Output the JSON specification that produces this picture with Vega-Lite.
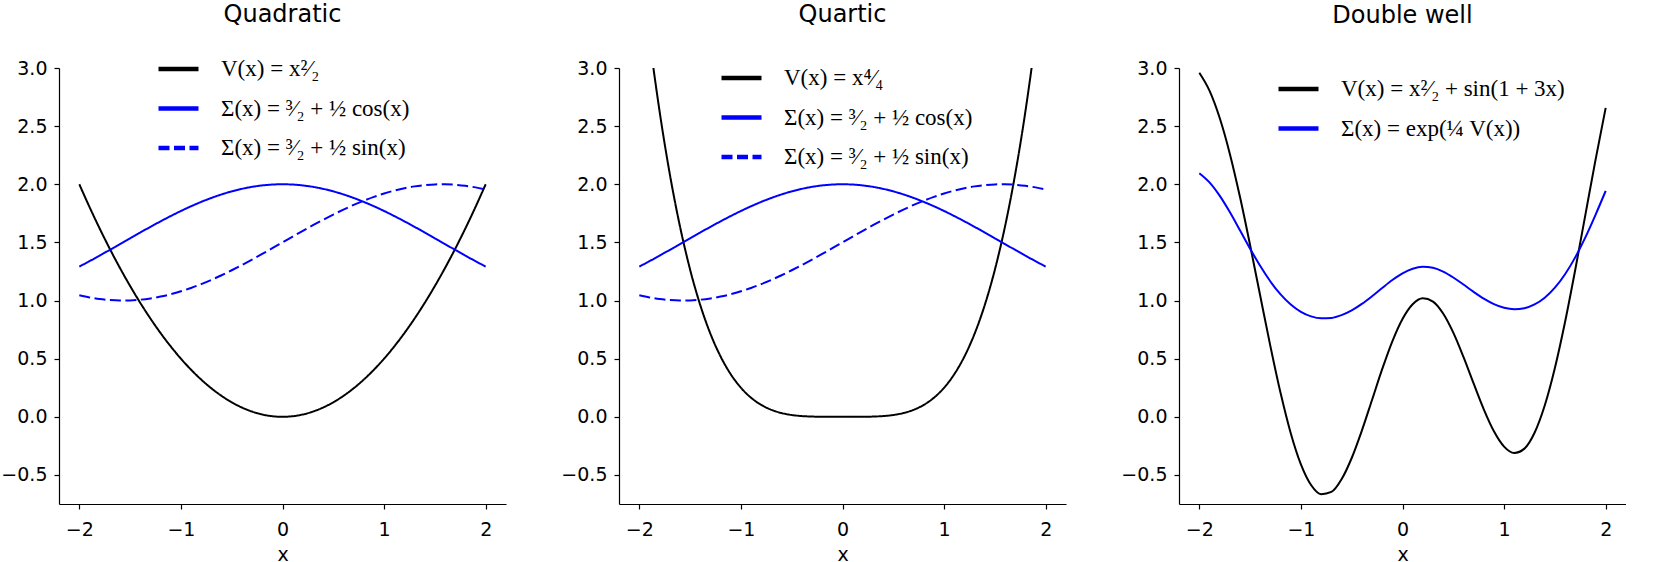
{
  "$schema": "https://vega.github.io/schema/vega-lite/v6.json",
  "autosize": {"type": "pad"},
  "padding": {"left": 0, "top": 3, "right": 0, "bottom": 0},
  "background": "white",
  "datasets": {
    "pq": [
      {"x": -2.0, "q": 2.0, "r": 4.0, "c": 1.2919, "s": 1.0453},
      {"x": -1.9, "q": 1.805, "r": 3.258, "c": 1.3384, "s": 1.0268},
      {"x": -1.8, "q": 1.62, "r": 2.6244, "c": 1.3864, "s": 1.0131},
      {"x": -1.7, "q": 1.445, "r": 2.088, "c": 1.4356, "s": 1.0042},
      {"x": -1.6, "q": 1.28, "r": 1.6384, "c": 1.4854, "s": 1.0002},
      {"x": -1.5, "q": 1.125, "r": 1.2656, "c": 1.5354, "s": 1.0013},
      {"x": -1.4, "q": 0.98, "r": 0.9604, "c": 1.585, "s": 1.0073},
      {"x": -1.3, "q": 0.845, "r": 0.714, "c": 1.6338, "s": 1.0182},
      {"x": -1.2, "q": 0.72, "r": 0.5184, "c": 1.6812, "s": 1.034},
      {"x": -1.1, "q": 0.605, "r": 0.366, "c": 1.7268, "s": 1.0544},
      {"x": -1.0, "q": 0.5, "r": 0.25, "c": 1.7702, "s": 1.0793},
      {"x": -0.9, "q": 0.405, "r": 0.164, "c": 1.8108, "s": 1.1083},
      {"x": -0.8, "q": 0.32, "r": 0.1024, "c": 1.8484, "s": 1.1413},
      {"x": -0.7, "q": 0.245, "r": 0.06, "c": 1.8824, "s": 1.1779},
      {"x": -0.6, "q": 0.18, "r": 0.0324, "c": 1.9127, "s": 1.2177},
      {"x": -0.5, "q": 0.125, "r": 0.0156, "c": 1.9388, "s": 1.2603},
      {"x": -0.4, "q": 0.08, "r": 0.0064, "c": 1.9605, "s": 1.3053},
      {"x": -0.3, "q": 0.045, "r": 0.002, "c": 1.9777, "s": 1.3522},
      {"x": -0.2, "q": 0.02, "r": 0.0004, "c": 1.99, "s": 1.4007},
      {"x": -0.1, "q": 0.005, "r": 0.0, "c": 1.9975, "s": 1.4501},
      {"x": 0.0, "q": 0.0, "r": 0.0, "c": 2.0, "s": 1.5},
      {"x": 0.1, "q": 0.005, "r": 0.0, "c": 1.9975, "s": 1.5499},
      {"x": 0.2, "q": 0.02, "r": 0.0004, "c": 1.99, "s": 1.5993},
      {"x": 0.3, "q": 0.045, "r": 0.002, "c": 1.9777, "s": 1.6478},
      {"x": 0.4, "q": 0.08, "r": 0.0064, "c": 1.9605, "s": 1.6947},
      {"x": 0.5, "q": 0.125, "r": 0.0156, "c": 1.9388, "s": 1.7397},
      {"x": 0.6, "q": 0.18, "r": 0.0324, "c": 1.9127, "s": 1.7823},
      {"x": 0.7, "q": 0.245, "r": 0.06, "c": 1.8824, "s": 1.8221},
      {"x": 0.8, "q": 0.32, "r": 0.1024, "c": 1.8484, "s": 1.8587},
      {"x": 0.9, "q": 0.405, "r": 0.164, "c": 1.8108, "s": 1.8917},
      {"x": 1.0, "q": 0.5, "r": 0.25, "c": 1.7702, "s": 1.9207},
      {"x": 1.1, "q": 0.605, "r": 0.366, "c": 1.7268, "s": 1.9456},
      {"x": 1.2, "q": 0.72, "r": 0.5184, "c": 1.6812, "s": 1.966},
      {"x": 1.3, "q": 0.845, "r": 0.714, "c": 1.6338, "s": 1.9818},
      {"x": 1.4, "q": 0.98, "r": 0.9604, "c": 1.585, "s": 1.9927},
      {"x": 1.5, "q": 1.125, "r": 1.2656, "c": 1.5354, "s": 1.9987},
      {"x": 1.6, "q": 1.28, "r": 1.6384, "c": 1.4854, "s": 1.9998},
      {"x": 1.7, "q": 1.445, "r": 2.088, "c": 1.4356, "s": 1.9958},
      {"x": 1.8, "q": 1.62, "r": 2.6244, "c": 1.3864, "s": 1.9869},
      {"x": 1.9, "q": 1.805, "r": 3.258, "c": 1.3384, "s": 1.9732},
      {"x": 2.0, "q": 2.0, "r": 4.0, "c": 1.2919, "s": 1.9547}
    ],
    "dw": [
      {"x": -2.0, "v": 2.9589, "e": 2.0953},
      {"x": -1.9, "v": 2.8049, "e": 2.0162},
      {"x": -1.8, "v": 2.5716, "e": 1.902},
      {"x": -1.7, "v": 2.2633, "e": 1.7609},
      {"x": -1.6, "v": 1.8919, "e": 1.6047},
      {"x": -1.5, "v": 1.4758, "e": 1.4462},
      {"x": -1.4, "v": 1.0384, "e": 1.2964},
      {"x": -1.3, "v": 0.6058, "e": 1.1635},
      {"x": -1.2, "v": 0.2045, "e": 1.0525},
      {"x": -1.1, "v": -0.1407, "e": 0.9654},
      {"x": -1.0, "v": -0.4093, "e": 0.9027},
      {"x": -0.9, "v": -0.5867, "e": 0.8636},
      {"x": -0.8, "v": -0.6655, "e": 0.8467},
      {"x": -0.7, "v": -0.6462, "e": 0.8508},
      {"x": -0.6, "v": -0.5374, "e": 0.8743},
      {"x": -0.5, "v": -0.3544, "e": 0.9152},
      {"x": -0.4, "v": -0.1187, "e": 0.9708},
      {"x": -0.3, "v": 0.1448, "e": 1.0369},
      {"x": -0.2, "v": 0.4094, "e": 1.1078},
      {"x": -0.1, "v": 0.6492, "e": 1.1762},
      {"x": 0.0, "v": 0.8415, "e": 1.2341},
      {"x": 0.1, "v": 0.9686, "e": 1.274},
      {"x": 0.2, "v": 1.0196, "e": 1.2903},
      {"x": 0.3, "v": 0.9913, "e": 1.2812},
      {"x": 0.4, "v": 0.8885, "e": 1.2487},
      {"x": 0.5, "v": 0.7235, "e": 1.1983},
      {"x": 0.6, "v": 0.515, "e": 1.1374},
      {"x": 0.7, "v": 0.2866, "e": 1.0743},
      {"x": 0.8, "v": 0.0645, "e": 1.0162},
      {"x": 0.9, "v": -0.1248, "e": 0.9693},
      {"x": 1.0, "v": -0.2568, "e": 0.9378},
      {"x": 1.1, "v": -0.3112, "e": 0.9252},
      {"x": 1.2, "v": -0.2737, "e": 0.9339},
      {"x": 1.3, "v": -0.1375, "e": 0.9662},
      {"x": 1.4, "v": 0.0966, "e": 1.0244},
      {"x": 1.5, "v": 0.4195, "e": 1.1106},
      {"x": 1.6, "v": 0.8154, "e": 1.2261},
      {"x": 1.7, "v": 1.2628, "e": 1.3712},
      {"x": 1.8, "v": 1.7366, "e": 1.5436},
      {"x": 1.9, "v": 2.2099, "e": 1.7375},
      {"x": 2.0, "v": 2.657, "e": 1.943}
    ]
  },
  "config": {
    "view": {"stroke": null},
    "axis": {
      "grid": false,
      "domainColor": "black",
      "tickColor": "black",
      "labelColor": "black",
      "titleColor": "black",
      "labelFont": "DejaVu Sans",
      "titleFont": "DejaVu Sans",
      "labelFontSize": 19,
      "titleFontSize": 19,
      "titleFontWeight": "normal",
      "tickSize": 5,
      "domainWidth": 1.2,
      "tickWidth": 1.2,
      "labelPadding": 7
    },
    "axisX": {"labelPadding": 11, "titlePadding": 6},
    "title": {
      "font": "DejaVu Sans",
      "fontSize": 24,
      "fontWeight": "normal",
      "color": "black",
      "anchor": "middle",
      "frame": "group",
      "baseline": "alphabetic",
      "offset": 31
    },
    "legend": {
      "orient": "none",
      "title": null,
      "padding": 0,
      "labelFont": "Liberation Serif",
      "labelFontSize": 23,
      "labelColor": "black",
      "labelOffset": 20,
      "symbolType": "stroke",
      "symbolStrokeWidth": 4.5,
      "symbolSize": 1600,
      "rowPadding": 4.5,
      "labelLimit": 400
    }
  },
  "spacing": 113,
  "bounds": "flush",
  "resolve": {
    "scale": {"color": "independent", "strokeDash": "independent", "x": "independent", "y": "independent"},
    "legend": {"color": "independent", "strokeDash": "independent"}
  },
  "hconcat": [
    {
      "width": 447,
      "height": 436,
      "title": {"text": "Quadratic", "dy": 11.5},
      "data": {"name": "pq"},
      "transform": [{"fold": ["q", "c", "s"], "as": ["k", "val"]}],
      "mark": {"type": "line", "strokeWidth": 2, "interpolate": "monotone", "clip": true},
      "encoding": {
        "x": {"field": "x", "type": "quantitative", "scale": {"domain": [-2.2, 2.2], "nice": false, "zero": false}, "axis": {"values": [-2, -1, 0, 1, 2], "format": "d", "title": "x"}},
        "y": {"field": "val", "type": "quantitative", "scale": {"domain": [-0.75, 3], "nice": false, "zero": false}, "axis": {"values": [-0.5, 0, 0.5, 1, 1.5, 2, 2.5, 3], "format": ".1f", "title": null}},
        "color": {"field": "k", "type": "nominal", "scale": {"domain": ["q", "c", "s"], "range": ["black", "blue", "blue"]},
          "legend": {"legendX": 97, "legendY": -21.5, "labelExpr": "datum.label == 'q' ? 'V(x) = x²⁄₂' : datum.label == 'c' ? 'Σ(x) = ³⁄₂ + ½ cos(x)' : 'Σ(x) = ³⁄₂ + ½ sin(x)'"}},
        "strokeDash": {"field": "k", "type": "nominal", "scale": {"domain": ["q", "c", "s"], "range": [[1, 0], [1, 0], [11, 4.5]]},
          "legend": {"legendX": 97, "legendY": -21.5, "labelExpr": "datum.label == 'q' ? 'V(x) = x²⁄₂' : datum.label == 'c' ? 'Σ(x) = ³⁄₂ + ½ cos(x)' : 'Σ(x) = ³⁄₂ + ½ sin(x)'"}}
      }
    },
    {
      "width": 447,
      "height": 436,
      "title": {"text": "Quartic", "dy": 2.5},
      "data": {"name": "pq"},
      "transform": [{"fold": ["r", "c", "s"], "as": ["k", "val"]}],
      "mark": {"type": "line", "strokeWidth": 2, "interpolate": "monotone", "clip": true},
      "encoding": {
        "x": {"field": "x", "type": "quantitative", "scale": {"domain": [-2.2, 2.2], "nice": false, "zero": false}, "axis": {"values": [-2, -1, 0, 1, 2], "format": "d", "title": "x"}},
        "y": {"field": "val", "type": "quantitative", "scale": {"domain": [-0.75, 3], "nice": false, "zero": false}, "axis": {"values": [-0.5, 0, 0.5, 1, 1.5, 2, 2.5, 3], "format": ".1f", "title": null}},
        "color": {"field": "k", "type": "nominal", "scale": {"domain": ["r", "c", "s"], "range": ["black", "blue", "blue"]},
          "legend": {"legendX": 100, "legendY": -12.5, "labelExpr": "datum.label == 'r' ? 'V(x) = x⁴⁄₄' : datum.label == 'c' ? 'Σ(x) = ³⁄₂ + ½ cos(x)' : 'Σ(x) = ³⁄₂ + ½ sin(x)'"}},
        "strokeDash": {"field": "k", "type": "nominal", "scale": {"domain": ["r", "c", "s"], "range": [[1, 0], [1, 0], [11, 4.5]]},
          "legend": {"legendX": 100, "legendY": -12.5, "labelExpr": "datum.label == 'r' ? 'V(x) = x⁴⁄₄' : datum.label == 'c' ? 'Σ(x) = ³⁄₂ + ½ cos(x)' : 'Σ(x) = ³⁄₂ + ½ sin(x)'"}}
      }
    },
    {
      "width": 447,
      "height": 436,
      "title": {"text": "Double well", "dy": 0},
      "data": {"name": "dw"},
      "transform": [{"fold": ["v", "e"], "as": ["k", "val"]}],
      "mark": {"type": "line", "strokeWidth": 2, "interpolate": "monotone", "clip": true},
      "encoding": {
        "x": {"field": "x", "type": "quantitative", "scale": {"domain": [-2.2, 2.2], "nice": false, "zero": false}, "axis": {"values": [-2, -1, 0, 1, 2], "format": "d", "title": "x"}},
        "y": {"field": "val", "type": "quantitative", "scale": {"domain": [-0.75, 3], "nice": false, "zero": false}, "axis": {"values": [-0.5, 0, 0.5, 1, 1.5, 2, 2.5, 3], "format": ".1f", "title": null}},
        "color": {"field": "k", "type": "nominal", "scale": {"domain": ["v", "e"], "range": ["black", "blue"]},
          "legend": {"legendX": 97, "legendY": -1.5, "labelExpr": "datum.label == 'v' ? 'V(x) = x²⁄₂ + sin(1 + 3x)' : 'Σ(x) = exp(¼ V(x))'"}}
      }
    }
  ]
}
